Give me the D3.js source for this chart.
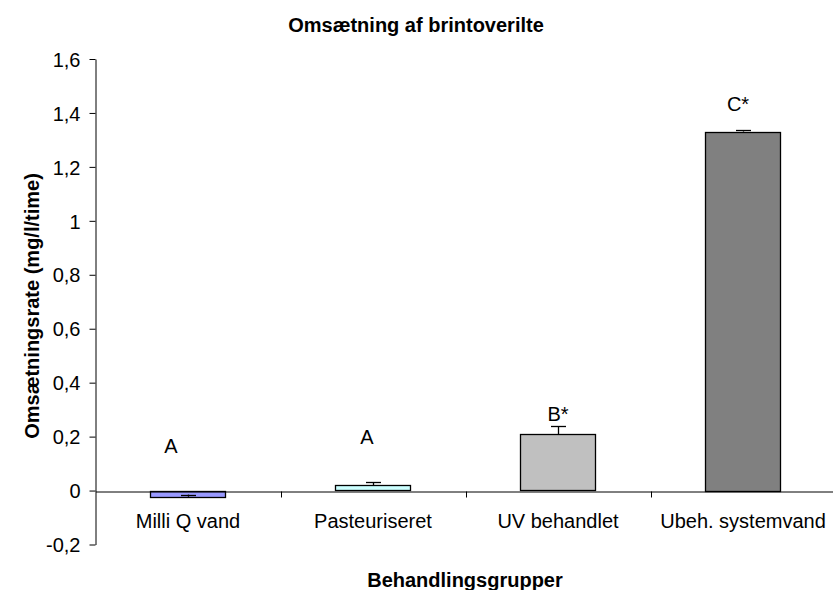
<!DOCTYPE html>
<html>
<head>
<meta charset="utf-8">
<script src="https://cdn.jsdelivr.net/npm/d3@7"></script>
<style>
  body { margin: 0; background: #fff; }
  text { font-family: "Liberation Sans", Arial, sans-serif; fill: #000; }
</style>
</head>
<body>
<script>
// data
var groups = ['Milli Q vand', 'Pasteuriseret', 'UV behandlet', 'Ubeh. systemvand'];
var rates = [-0.023, 0.019, 0.209, 1.331];
var errors = [0.008, 0.012, 0.030, 0.005];
var letters = ['A', 'A', 'B*', 'C*'];
var letterLevel = [0.139, 0.173, 0.259, 1.408];
var fills = ['#9999ff', '#ccffff', '#c0c0c0', '#808080'];

var width = 833, height = 590;

var svg = d3.select("body").append("svg")
    .attr("width", width)
    .attr("height", height);

var x = d3.scaleBand()
    .domain(groups)
    .range([95.5, 835.5]);

var y = d3.scaleLinear()
    .domain([-0.2, 1.6])
    .range([544.5, 59]);

var barW = x.bandwidth() * 0.408;
// small manual nudges of the significance letters (as in the original text boxes)
var letterNudge = [-17, -6, 0, -5];

var fmt = function(d) {
    return String(+d.toFixed(1)).replace(".", ",");
};

// y axis
var yAxis = svg.append("g")
    .attr("transform", "translate(95.5,0)")
    .call(d3.axisLeft(y).tickValues(d3.range(-0.2, 1.61, 0.2).map(function(d) { return +d.toFixed(1); }))
        .tickSize(6).tickPadding(9).tickFormat(fmt).tickSizeOuter(0));
yAxis.selectAll("text").style("font-size", "20px").attr("dy", "0.36em");
yAxis.selectAll("line, path").attr("stroke", "#000");

// bars
svg.selectAll("rect.bar").data(groups)
    .enter().append("rect")
    .attr("class", "bar")
    .attr("x", function(d) { return Math.round(x(d) + x.bandwidth() / 2 - barW / 2) + 0.5; })
    .attr("width", Math.round(barW))
    .attr("y", function(d, i) { return Math.round(y(Math.max(0, rates[i]))) + 0.5; })
    .attr("height", function(d, i) { return Math.max(1, Math.round(Math.abs(y(rates[i]) - y(0)))); })
    .style("fill", function(d, i) { return fills[i]; })
    .style("stroke", "#000")
    .style("stroke-width", 1.3);

// error bars (plus direction)
var eb = svg.selectAll("g.err").data(groups)
    .enter().append("g")
    .attr("class", "err")
    .attr("transform", function(d) { return "translate(" + (Math.round(x(d) + x.bandwidth() / 2) + 0.5) + ",0)"; });
eb.append("line")
    .attr("y1", function(d, i) { return y(rates[i]); })
    .attr("y2", function(d, i) { return y(rates[i] + errors[i]); })
    .attr("stroke", "#000").attr("stroke-width", 1.3);
eb.append("line")
    .attr("x1", -7.5).attr("x2", 7.5)
    .attr("y1", function(d, i) { return Math.round(y(rates[i] + errors[i])) + 0.5; })
    .attr("y2", function(d, i) { return Math.round(y(rates[i] + errors[i])) + 0.5; })
    .attr("stroke", "#000").attr("stroke-width", 1.3);

// x axis along zero
var xAxis = svg.append("g")
    .attr("transform", "translate(0," + (Math.round(y(0)) + 0.5) + ")")
    .call(d3.axisBottom(x).tickSize(0).tickPadding(22).tickSizeOuter(0));
xAxis.selectAll("text").style("font-size", "20px");
xAxis.select("path").attr("stroke", "#000");
xAxis.selectAll(".sep").data(groups.slice(1))
    .enter().append("line")
    .attr("class", "sep")
    .attr("x1", function(d) { return Math.round(x(d)) + 0.5; })
    .attr("x2", function(d) { return Math.round(x(d)) + 0.5; })
    .attr("y1", 0).attr("y2", 6)
    .attr("stroke", "#000");

// significance letters
svg.selectAll("text.letter").data(groups)
    .enter().append("text")
    .attr("class", "letter")
    .attr("x", function(d, i) { return x(d) + x.bandwidth() / 2 + letterNudge[i]; })
    .attr("y", function(d, i) { return y(letterLevel[i]); })
    .attr("text-anchor", "middle")
    .style("font-size", "20px")
    .text(function(d, i) { return letters[i]; });

// titles
svg.append("text")
    .attr("x", 416).attr("y", 32)
    .attr("text-anchor", "middle")
    .style("font-size", "20px").style("font-weight", "bold")
    .text("Omsætning af brintoverilte");

svg.append("text")
    .attr("x", 465).attr("y", 587)
    .attr("text-anchor", "middle")
    .style("font-size", "20px").style("font-weight", "bold")
    .text("Behandlingsgrupper");

svg.append("text")
    .attr("transform", "translate(39,306) rotate(-90)")
    .attr("text-anchor", "middle")
    .style("font-size", "20px").style("font-weight", "bold")
    .text("Omsætningsrate (mg/l/time)");
</script>
</body>
</html>
